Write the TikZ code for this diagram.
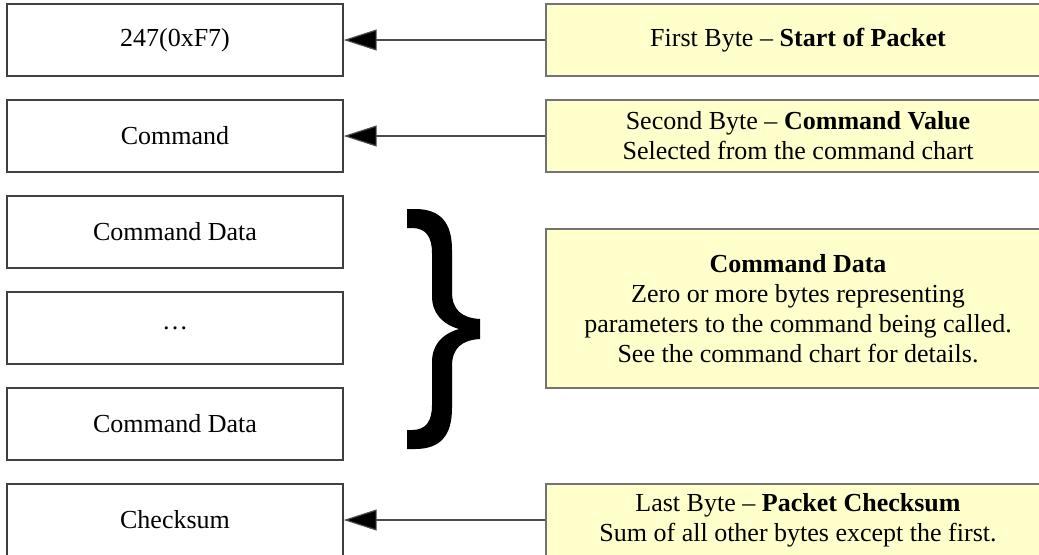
\documentclass[tikz,border=0pt]{standalone}
\usepackage{fontspec}
\setmainfont{Liberation Serif}
\usetikzlibrary{arrows.meta}
\definecolor{noteyellow}{RGB}{255,255,204}
\newcommand\fieldX{175}
\newcommand\noteX{798}
\newcommand\rowSep{96}
\newcommand\firstRow{40}

\begin{document}
\begin{tikzpicture}[x=0.5pt,y=-0.5pt,
    field/.style={draw=black!75, line width=0.7pt, minimum width=168pt, minimum height=36pt,
      inner sep=0pt, font=\fontsize{13}{15}\selectfont},
    note/.style={draw=black!55, line width=0.7pt, fill=noteyellow, minimum width=252pt,
      minimum height=36pt, inner sep=0pt, align=center, font=\fontsize{13}{15}\selectfont},
    link/.style={draw=black!70, line width=0.6pt, -{Triangle[length=16.5pt,width=10.5pt,fill=black]}}]
    \useasboundingbox (0,0) rectangle (1039,554);

    %% packet fields
    \foreach \Rnumber/\Fname/\Ftext in {0/start/247(0xF7), 1/cmd/Command, 2/dataA/Command Data,
        3/dots/…, 4/dataB/Command Data, 5/sum/Checksum}{
      \node[field] (\Fname) at (\fieldX,\firstRow+\rowSep*\Rnumber) {\Ftext};
    }

    %% notes on the right
    \node[note] (startNote) at (\noteX,\firstRow) {First Byte – \textbf{Start of Packet}};
    \node[note] (cmdNote) at (\noteX,\firstRow+\rowSep) {Second Byte – \textbf{Command Value}\\Selected from the command chart};
    \node[note, minimum height=79.5pt] (dataNote) at (\noteX,308.5) {\textbf{Command Data}\\Zero or more bytes representing\\parameters to the command being called.\\See the command chart for details.};
    \node[note] (sumNote) at (\noteX,\firstRow+\rowSep*5) {Last Byte – \textbf{Packet Checksum}\\Sum of all other bytes except the first.};

    %% arrows for single bytes
    \draw[link] (startNote.west) -- (start.east);
    \draw[link] (cmdNote.west) -- (cmd.east);
    \draw[link] (sumNote.west) -- (sum.east);

    %% brace over the data bytes
    \fill[black] (407,209) -- (415,209) .. controls (440,209) and (452,222) .. (452,250)
      -- (452,292) .. controls (452,310) and (462,318) .. (480,319) -- (480,339)
      .. controls (462,340) and (452,348) .. (452,366) -- (452,408)
      .. controls (452,436) and (440,449) .. (415,449) -- (407,449) -- (407,430) -- (412,430)
      .. controls (426,430) and (432,421) .. (432,405) -- (432,362)
      .. controls (432,345) and (442,334) .. (459,329)
      .. controls (442,324) and (432,313) .. (432,296) -- (432,253)
      .. controls (432,237) and (426,228) .. (412,228) -- (407,228) -- cycle;
\end{tikzpicture}
\end{document}
